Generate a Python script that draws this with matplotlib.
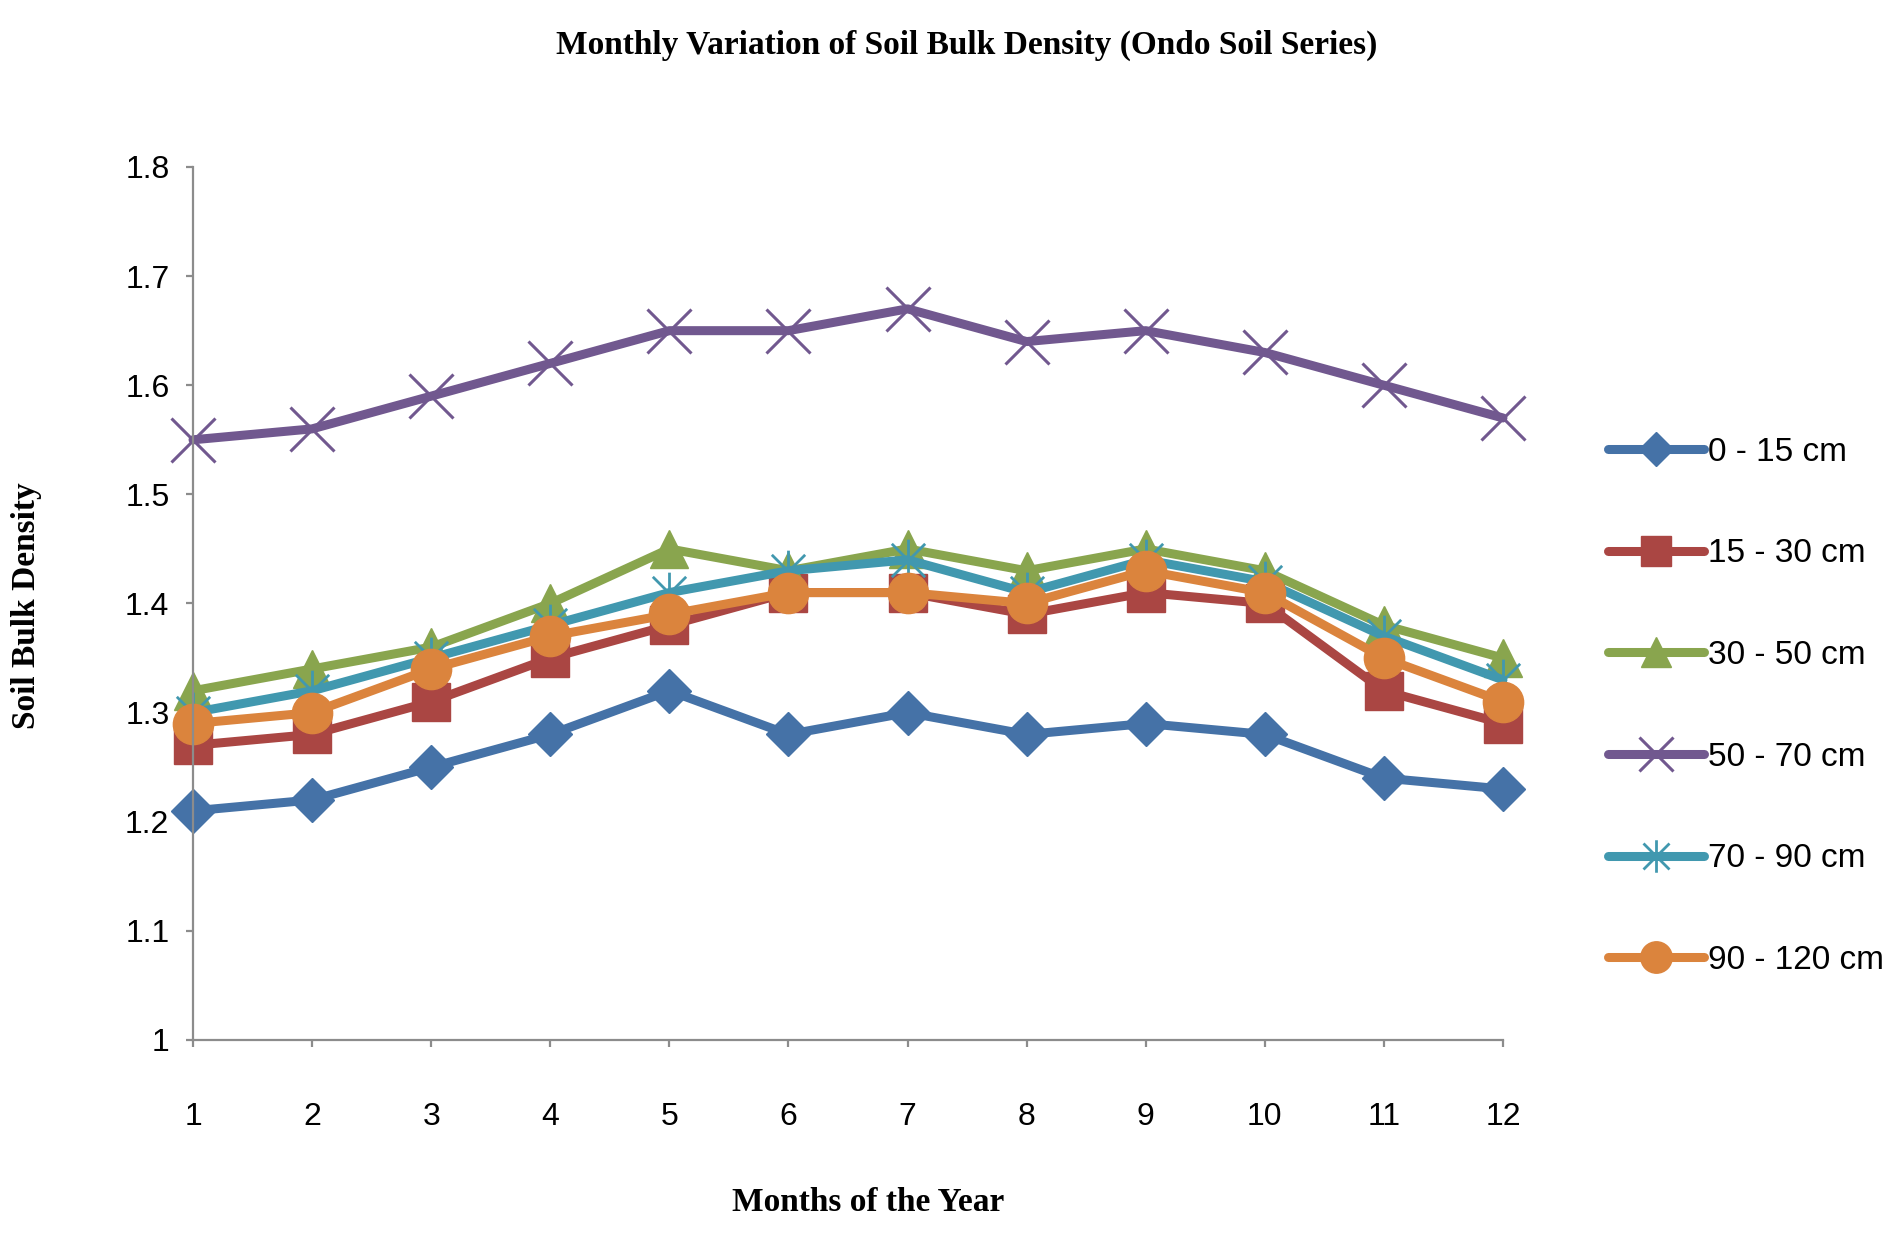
import matplotlib.pyplot as plt
import numpy as np
from matplotlib.path import Path
from matplotlib.lines import Line2D

# Data
months = np.arange(1, 13)
depths = ["0 - 15 cm", "15 - 30 cm", "30 - 50 cm", "50 - 70 cm", "70 - 90 cm", "90 - 120 cm"]
d_0_15 = [1.21, 1.22, 1.25, 1.28, 1.32, 1.28, 1.30, 1.28, 1.29, 1.28, 1.24, 1.23]
d_15_30 = [1.27, 1.28, 1.31, 1.35, 1.38, 1.41, 1.41, 1.39, 1.41, 1.40, 1.32, 1.29]
d_30_50 = [1.32, 1.34, 1.36, 1.40, 1.45, 1.43, 1.45, 1.43, 1.45, 1.43, 1.38, 1.35]
d_50_70 = [1.55, 1.56, 1.59, 1.62, 1.65, 1.65, 1.67, 1.64, 1.65, 1.63, 1.60, 1.57]
d_70_90 = [1.30, 1.32, 1.35, 1.38, 1.41, 1.43, 1.44, 1.41, 1.44, 1.42, 1.37, 1.33]
d_90_120 = [1.29, 1.30, 1.34, 1.37, 1.39, 1.41, 1.41, 1.40, 1.43, 1.41, 1.35, 1.31]
y_ticks = [1.0, 1.1, 1.2, 1.3, 1.4, 1.5, 1.6, 1.7, 1.8]
y_tick_labels = ["1", "1.1", "1.2", "1.3", "1.4", "1.5", "1.6", "1.7", "1.8"]

series = [d_0_15, d_15_30, d_30_50, d_50_70, d_70_90, d_90_120]
colors = ["#4572A7", "#AA4643", "#89A54E", "#71588F", "#4198AF", "#DB843D"]

# asterisk-like star marker (vertical bar + X)
star = Path([(0, -1), (0, 1), (-0.8, -0.8), (0.8, 0.8), (-0.8, 0.8), (0.8, -0.8)],
            [Path.MOVETO, Path.LINETO, Path.MOVETO, Path.LINETO, Path.MOVETO, Path.LINETO])

styles = [
    dict(marker="D", ms=22),
    dict(marker="s", ms=28),
    dict(marker="^", ms=28),
    dict(marker="x", ms=31, mew=2.2),
    dict(marker=star, ms=30, mew=2.0),
    dict(marker="o", ms=29),
]

fig = plt.figure(figsize=(18.96, 12.35), dpi=100)
ax = fig.add_axes([0.1018, 0.1579, 0.6909, 0.7069])

handles = []
for vals, lab, col, st in zip(series, depths, colors, styles):
    ax.plot(months, vals, color=col, lw=6.5, solid_capstyle="round", clip_on=False,
            mec=col, mfc=col, **st)
    handles.append(Line2D([], [], color=col, lw=6.5, solid_capstyle="round",
                          mec=col, mfc=col, **st))

ax.set_xlim(1, 12)
ax.set_ylim(1.0, 1.8)
ax.set_xticks(months)
ax.set_yticks(y_ticks)
ax.set_yticklabels(y_tick_labels)

for s in ["top", "right"]:
    ax.spines[s].set_visible(False)
for s in ["left", "bottom"]:
    ax.spines[s].set_color("#8c8c8c")
    ax.spines[s].set_linewidth(1.6)

ax.tick_params(axis="both", colors="#8c8c8c", length=5, width=1.6, labelcolor="black",
               labelsize=23)
ax.tick_params(axis="x", pad=40)
ax.tick_params(axis="y", pad=12)
for t in ax.get_xticklabels() + ax.get_yticklabels():
    t.set_family("Liberation Sans")

serif = dict(family="Liberation Serif", weight="bold", fontsize=24)
fig.text(0.51, 0.9636, "Monthly Variation of Soil Bulk Density (Ondo Soil Series)",
         ha="center", va="center", **serif)
fig.text(0.0142, 0.51, "Soil Bulk Density", rotation=90, ha="center", va="center", **serif)
fig.text(0.458, 0.026, "Months of the Year", ha="center", va="center", **serif)

fig.legend(handles, depths, loc="center left", bbox_to_anchor=(0.848, 0.428),
           frameon=False, borderpad=0, borderaxespad=0, handlelength=2.9,
           handletextpad=0.1, labelspacing=2.12, markerscale=0.78,
           prop=dict(family="Liberation Sans", size=24))

fig.savefig("out.png", dpi=100)
